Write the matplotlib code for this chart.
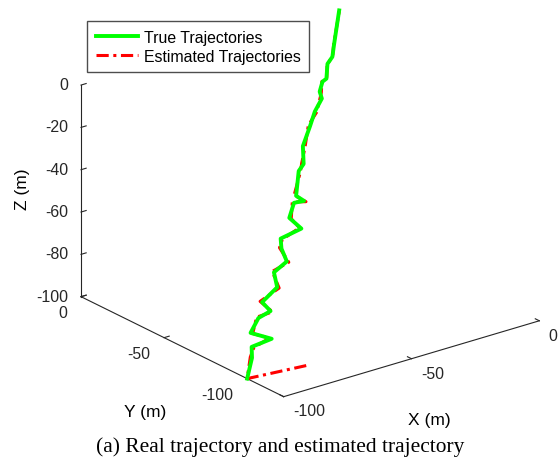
import matplotlib
matplotlib.use('Agg')
import matplotlib.pyplot as plt

# trajectory samples (m)
true_x = [-100, -94.4, -92.2, -85.6, -89.5, -84.4, -80.0, -80.2, -73.3, -71.0, -65.5,
          -64.1, -62.2, -55.0, -55.7, -51.4, -48.5, -49.4, -43.5, -40.8, -37.2, -31.3,
          -27.0, -22.5, -21.6, -18.8, -17.2, -13.8, -11.1, -8.2, 0.0]
true_y = [-100, -94.3, -90.7, -92.6, -85.9, -82.8, -83.3, -78.5, -77.0, -71.5, -70.8,
          -65.4, -62.0, -63.4, -57.2, -53.4, -55.0, -51.6, -44.1, -42.9, -36.9, -32.1,
          -28.4, -25.7, -23.0, -20.4, -20.3, -15.7, -14.5, -11.0, -1.5]
true_z = [-100, -94.4, -91.4, -89.2, -87.6, -83.6, -81.7, -79.3, -75.3, -71.2, -68.3,
          -64.8, -62.1, -59.4, -56.5, -52.4, -51.9, -50.5, -43.8, -41.9, -37.1, -31.7,
          -27.7, -24.2, -22.3, -19.6, -18.8, -14.8, -12.9, -9.7, 0.0]

est_x = [-79.1, -100.0, -94.8, -91.6, -86.2, -88.9, -84.9, -79.5, -80.7, -72.8, -71.4,
         -65.0, -64.6, -61.8, -55.5, -55.2, -51.8, -48.0, -49.9, -43.1, -41.3, -36.6,
         -31.7, -26.6, -22.9, -21.2, -19.3, -16.8, -14.2, -10.7, -8.6, 0.3]
est_y = [-103.4, -100.0, -93.9, -91.1, -92.2, -86.3, -82.4, -83.7, -78.1, -77.4, -71.1,
         -71.2, -65.0, -62.4, -63.0, -57.6, -53.0, -55.4, -51.2, -44.5, -42.5, -37.3,
         -31.7, -28.8, -25.3, -23.4, -20.8, -19.9, -16.1, -14.1, -11.4, -1.1]
est_z = [-100, -100, -94.0, -91.8, -88.8, -88.0, -83.2, -82.1, -78.9, -75.7, -70.8,
         -68.7, -64.4, -62.5, -59.0, -56.9, -52.0, -52.3, -50.1, -44.2, -41.5, -37.5,
         -31.3, -28.1, -23.8, -22.7, -19.2, -18.4, -15.2, -12.5, -9.3, -0.6]

xy_ticks = [-100, -50, 0]
z_ticks = [-100, -80, -60, -40, -20, 0]

plt.rcParams['font.family'] = ['Liberation Sans', 'DejaVu Sans']
plt.rcParams['axes.unicode_minus'] = False

fig = plt.figure(figsize=(5.6, 4.64), dpi=100)
ax = fig.add_subplot(projection='3d', proj_type='ortho')
ax.set_position([0.0427, 0.047, 1, 1])
ax.computed_zorder = False

ax.plot(est_x, est_y, est_z, color='#ff0000', lw=2.2, ls=(0, (4, 1.5, 1, 1.5)),
        zorder=3, label='Estimated Trajectories')
ax.plot(true_x, true_y, true_z, color='#00ff00', lw=2.8, zorder=4,
        label='True Trajectories')

ax.set_xlim(-100, 0)
ax.set_ylim(-122, 0)
ax.set_zlim(-100, 0)
ax.set_xticks(xy_ticks)
ax.set_yticks(xy_ticks)
ax.set_zticks(z_ticks)
ax.set_box_aspect((1, 1.022, 0.708), zoom=1.08)
ax.view_init(elev=22.5, azim=-127.8)
ax.grid(False)

for axis in (ax.xaxis, ax.yaxis, ax.zaxis):
    axis.set_pane_color((1, 1, 1, 0))
    axis.pane.set_edgecolor((1, 1, 1, 0))
    axis.line.set_color('0.15')
    axis.line.set_linewidth(0.8)
    axis.set_rotate_label(False)
    axis._axinfo['tick']['inward_factor'] = 0.0
    axis._axinfo['tick']['outward_factor'] = 0.25
    axis._axinfo['tick']['linewidth'] = {True: 0.8, False: 0.5}
ax.tick_params(labelsize=11.4, colors='0.15')
ax.tick_params(axis='x', pad=0)
ax.tick_params(axis='y', pad=1.5)
ax.tick_params(axis='z', pad=-3.3)

for lbl in ax.get_xticklabels():
    lbl.set_ha('left')
    lbl.set_va('center')
for lbl in ax.get_yticklabels():
    lbl.set_ha('right')
    lbl.set_va('center')
for lbl in ax.get_zticklabels():
    lbl.set_ha('right')
    lbl.set_va('center')

ax.set_xlabel('X (m)', fontsize=12.5, labelpad=13)
ax.set_ylabel('Y (m)', fontsize=12.5, labelpad=18.4)
ax.set_zlabel('Z (m)', fontsize=12.5, rotation=90, labelpad=1.2)
ax.xaxis._axinfo['label']['ha'] = 'right'
ax.yaxis._axinfo['label']['ha'] = 'left'

handles, labels = ax.get_legend_handles_labels()
ax.legend(handles[::-1], labels[::-1], loc='upper left',
          bbox_to_anchor=(87 / 560, 1 - 22 / 464),
          bbox_transform=fig.transFigure, borderaxespad=0, fancybox=False,
          edgecolor='0.3', framealpha=1, fontsize=11.4, handlelength=2.7,
          handletextpad=0.32, labelspacing=0.25, borderpad=0.55)

fig.text(0.5, 1 - 447 / 464, '(a) Real trajectory and estimated trajectory',
         ha='center', va='center', fontsize=15.4,
         family=['Liberation Serif', 'DejaVu Serif'])

fig.savefig('out.png', dpi=100)
